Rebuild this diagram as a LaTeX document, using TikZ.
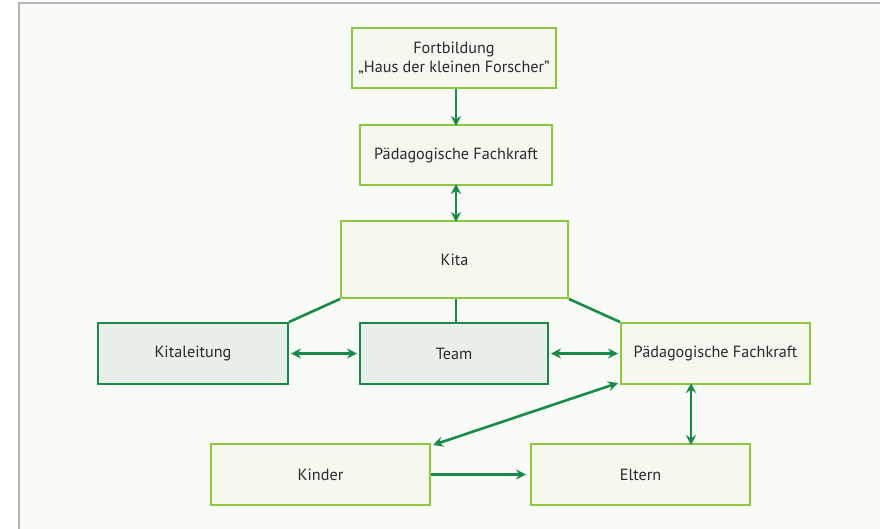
\documentclass[tikz,border=0pt]{standalone}
\usepackage{fontspec}
\setmainfont{PT Sans}
\usetikzlibrary{arrows.meta}
\definecolor{lightgreen}{HTML}{8DC63F}
\definecolor{darkgreen}{HTML}{1A8A4C}
\definecolor{boxfill}{HTML}{F5F8EE}
\definecolor{greyfill}{HTML}{E9EFE9}
\definecolor{bgfill}{HTML}{F9FBF6}
\definecolor{frame}{HTML}{B4B4B4}
\definecolor{txt}{HTML}{2A2A2A}
\tikzset{
  lbox/.style={draw=lightgreen, fill=boxfill, line width=2pt, inner sep=0pt, align=center, text=txt, font=\fontsize{16.2}{19.5}\selectfont},
  dbox/.style={draw=darkgreen, fill=greyfill, line width=2pt, inner sep=0pt, align=center, text=txt, font=\fontsize{16.2}{19.5}\selectfont},
  conn/.style={draw=darkgreen, line width=2.6pt},
  arr/.style={draw=darkgreen, line width=2.6pt, -{Stealth[length=10pt,width=10pt]}},
  darr/.style={draw=darkgreen, line width=2.6pt, {Stealth[length=10pt,width=10pt]}-{Stealth[length=10pt,width=10pt]}},
}
\begin{document}
\begin{tikzpicture}[x=1pt,y=-1pt]
\useasboundingbox (0,0) rectangle (880,528);
\fill[white] (0,0) rectangle (880,528);
\draw[frame, fill=bgfill, line width=2pt] (19,3) -- (886,3) -- (886,534) -- (19,534) -- cycle;

\node[lbox, minimum width=204pt, minimum height=60pt] (fort) at (454,58) {Fortbildung\\„Haus der kleinen Forscher”};
\node[lbox, minimum width=192pt, minimum height=60pt] (pf1) at (456,155) {Pädagogische Fachkraft};
\node[lbox, minimum width=227pt, minimum height=77pt] (kita) at (454.5,259.5) {Kita};
\node[dbox, minimum width=190pt, minimum height=61pt] (kl) at (193,353.5) {Kitaleitung};
\node[dbox, minimum width=188pt, minimum height=61pt] (team) at (454,353.5) {Team};
\node[lbox, minimum width=189pt, minimum height=61pt] (pf2) at (715.5,353.5) {Pädagogische Fachkraft};
\node[lbox, minimum width=219pt, minimum height=61pt] (kinder) at (320.5,474.5) {Kinder};
\node[lbox, minimum width=219pt, minimum height=61pt] (eltern) at (640.5,474.5) {Eltern};

\draw[conn] (kita.south west) -- (kl.north east);
\draw[conn] (kita.south -| 456,0) -- (team.north -| 456,0);
\draw[conn] (kita.south east) -- (pf2.north west);

\draw[arr] (fort.south -| 456,0) -- ([yshift=-2pt]pf1.north -| 456,0);
\draw[darr] ([yshift=2pt]pf1.south) -- ([yshift=-2pt]kita.north -| 456,0);
\draw[darr] ([xshift=2pt]kl.east) -- ([xshift=-2pt]team.west);
\draw[darr] ([xshift=2pt]team.east) -- ([xshift=-2pt]pf2.west);
\draw[darr] ([shift={(-2pt,2pt)}]pf2.south west) -- ([shift={(2pt,-2pt)}]kinder.north east);
\draw[darr] ([yshift=2pt]pf2.south -| 691,0) -- ([yshift=-2pt]eltern.north -| 691,0);
\draw[arr] (kinder.east) -- ([xshift=-4pt]eltern.west);
\end{tikzpicture}
\end{document}
